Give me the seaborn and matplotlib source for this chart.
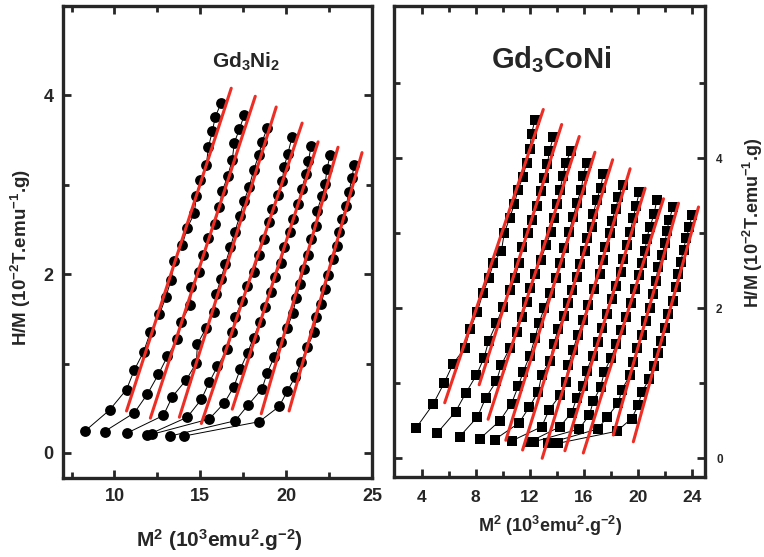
import numpy as np
import pandas as pd
import matplotlib
matplotlib.use("Agg")
import matplotlib.pyplot as plt
import seaborn as sns
from matplotlib.ticker import FixedLocator

# ---- Gd3Ni2 isotherms (M^2 in 10^3 emu^2/g^2, H/M in 10^-2 T.g/emu) ----
ni2_m2 = [
    [8.31, 9.71, 10.70, 11.16, 11.69, 12.09, 12.62, 13.00, 13.30, 13.49, 13.95, 14.24, 14.65, 14.77, 15.00, 15.35, 15.47, 15.70, 15.87, 16.22],
    [9.42, 11.16, 11.92, 12.56, 13.08, 13.66, 13.90, 14.42, 14.48, 14.94, 15.17, 15.47, 15.85, 16.10, 16.28, 16.60, 16.86, 16.98, 17.27, 17.56],
    [10.70, 12.85, 13.37, 14.19, 14.77, 14.83, 15.35, 15.81, 15.93, 16.20, 16.45, 16.75, 17.00, 17.30, 17.55, 17.85, 18.10, 18.40, 18.60, 18.90],
    [11.92, 14.24, 15.06, 15.52, 16.00, 16.57, 16.86, 17.03, 17.44, 17.73, 18.14, 18.40, 18.72, 19.00, 19.19, 19.53, 19.77, 19.88, 20.10, 20.35],
    [12.21, 15.52, 16.40, 16.95, 17.33, 17.75, 18.10, 18.45, 18.75, 19.10, 19.35, 19.70, 19.90, 20.20, 20.40, 20.70, 20.90, 21.15, 21.30, 21.45],
    [13.26, 17.03, 17.80, 18.60, 18.90, 19.30, 19.70, 20.06, 20.40, 20.58, 20.81, 21.05, 21.28, 21.45, 21.74, 21.80, 22.10, 22.27, 22.38, 22.56],
    [14.07, 18.43, 19.59, 20.06, 20.52, 20.87, 21.22, 21.63, 21.74, 22.03, 22.27, 22.44, 22.73, 22.97, 23.08, 23.26, 23.49, 23.66, 23.84, 23.95],
]
ni2_hm = [
    [0.25, 0.48, 0.71, 0.93, 1.13, 1.35, 1.55, 1.75, 1.94, 2.15, 2.33, 2.52, 2.68, 2.88, 3.05, 3.22, 3.42, 3.60, 3.76, 3.92],
    [0.24, 0.45, 0.66, 0.88, 1.08, 1.27, 1.47, 1.66, 1.86, 2.03, 2.22, 2.40, 2.56, 2.75, 2.93, 3.10, 3.28, 3.47, 3.62, 3.78],
    [0.22, 0.42, 0.63, 0.82, 1.01, 1.22, 1.40, 1.58, 1.78, 1.95, 2.11, 2.30, 2.47, 2.65, 2.82, 2.98, 3.16, 3.33, 3.48, 3.64],
    [0.20, 0.40, 0.60, 0.79, 0.97, 1.16, 1.35, 1.52, 1.70, 1.87, 2.03, 2.22, 2.39, 2.58, 2.73, 2.89, 3.04, 3.20, 3.35, 3.54],
    [0.21, 0.38, 0.56, 0.74, 0.94, 1.12, 1.29, 1.46, 1.63, 1.80, 1.97, 2.13, 2.30, 2.47, 2.62, 2.79, 2.95, 3.12, 3.27, 3.43],
    [0.19, 0.36, 0.54, 0.72, 0.90, 1.07, 1.24, 1.40, 1.57, 1.73, 1.89, 2.06, 2.22, 2.39, 2.54, 2.71, 2.88, 3.01, 3.18, 3.33],
    [0.19, 0.35, 0.52, 0.69, 0.85, 1.02, 1.18, 1.35, 1.52, 1.67, 1.83, 1.99, 2.17, 2.31, 2.47, 2.62, 2.76, 2.92, 3.08, 3.22],
]
# linear (Arrott) fits: end points
ni2_fit_x = [(10.70, 16.80), (12.09, 18.20), (13.78, 19.42), (15.06, 20.93), (16.86, 21.86), (18.55, 23.02), (20.17, 24.42)]
ni2_fit_y = [(0.47, 4.08), (0.39, 3.99), (0.40, 3.87), (0.33, 3.69), (0.49, 3.48), (0.44, 3.42), (0.47, 3.36)]

# ---- Gd3CoNi isotherms ----
coni_m2 = [
    [3.61, 4.84, 5.65, 6.32, 7.19, 7.60, 8.10, 8.54, 8.96, 9.30, 9.90, 10.10, 10.52, 10.85, 11.12, 11.48, 11.76, 12.00, 12.12, 12.38],
    [5.16, 6.50, 7.26, 8.05, 8.61, 8.96, 9.53, 10.02, 10.52, 10.89, 11.20, 11.45, 11.83, 12.12, 12.55, 12.79, 13.05, 13.30, 13.45, 13.73],
    [6.81, 8.12, 8.72, 9.53, 9.90, 10.52, 11.01, 11.43, 11.76, 12.00, 12.40, 12.80, 13.20, 13.55, 13.78, 14.02, 14.22, 14.45, 14.65, 15.05],
    [8.30, 9.78, 10.64, 11.14, 11.50, 12.00, 12.37, 12.67, 13.06, 13.50, 13.90, 14.20, 14.55, 14.90, 15.21, 15.46, 15.80, 15.95, 16.20],
    [9.41, 11.19, 11.95, 12.62, 12.87, 13.50, 13.75, 14.10, 14.50, 14.80, 15.15, 15.46, 15.70, 16.07, 16.20, 16.57, 16.69, 16.94, 17.23, 17.43],
    [10.64, 12.87, 13.41, 14.22, 14.67, 14.84, 15.20, 15.55, 15.95, 16.30, 16.75, 17.19, 17.38, 17.56, 17.93, 18.05, 18.37, 18.54, 18.87],
    [12.00, 14.22, 15.09, 15.46, 15.95, 16.20, 16.65, 17.00, 17.35, 17.70, 18.05, 18.40, 18.72, 18.91, 19.21, 19.41, 19.65, 19.85, 20.10],
    [12.30, 15.65, 16.40, 16.69, 17.23, 17.50, 18.00, 18.40, 18.75, 19.10, 19.45, 19.80, 20.10, 20.27, 20.52, 20.64, 20.89, 21.19, 21.38],
    [13.36, 17.01, 17.73, 18.54, 18.79, 19.41, 19.65, 19.95, 20.30, 20.55, 20.85, 21.10, 21.30, 21.50, 21.76, 21.99, 22.12, 22.32, 22.57],
    [14.10, 18.42, 19.53, 20.02, 20.27, 20.84, 21.15, 21.45, 21.70, 22.00, 22.25, 22.55, 22.80, 22.99, 23.16, 23.36, 23.56, 23.80, 23.98],
]
coni_hm = [
    [0.41, 0.72, 1.00, 1.26, 1.47, 1.73, 1.95, 2.21, 2.40, 2.60, 2.77, 3.00, 3.21, 3.39, 3.58, 3.75, 3.94, 4.12, 4.33, 4.51],
    [0.34, 0.62, 0.87, 1.11, 1.34, 1.57, 1.80, 2.02, 2.24, 2.40, 2.60, 2.82, 3.00, 3.18, 3.37, 3.56, 3.74, 3.93, 4.10, 4.28],
    [0.29, 0.55, 0.80, 1.03, 1.25, 1.47, 1.68, 1.88, 2.08, 2.27, 2.46, 2.65, 2.84, 3.02, 3.21, 3.39, 3.58, 3.76, 3.94, 4.10],
    [0.26, 0.50, 0.73, 0.96, 1.15, 1.37, 1.60, 1.80, 2.00, 2.20, 2.40, 2.60, 2.81, 3.02, 3.22, 3.40, 3.58, 3.76, 3.94],
    [0.25, 0.47, 0.68, 0.89, 1.11, 1.30, 1.52, 1.72, 1.90, 2.07, 2.25, 2.42, 2.59, 2.77, 2.94, 3.09, 3.26, 3.44, 3.61, 3.79],
    [0.23, 0.42, 0.64, 0.84, 1.02, 1.24, 1.45, 1.65, 1.85, 2.05, 2.26, 2.46, 2.64, 2.82, 3.00, 3.17, 3.33, 3.48, 3.65],
    [0.22, 0.42, 0.61, 0.80, 0.97, 1.17, 1.36, 1.55, 1.74, 1.93, 2.12, 2.30, 2.48, 2.66, 2.84, 3.02, 3.20, 3.37, 3.55],
    [0.22, 0.39, 0.58, 0.76, 0.95, 1.15, 1.34, 1.52, 1.71, 1.89, 2.07, 2.26, 2.44, 2.60, 2.77, 2.93, 3.09, 3.26, 3.44],
    [0.20, 0.39, 0.55, 0.74, 0.91, 1.11, 1.29, 1.47, 1.65, 1.83, 2.01, 2.19, 2.37, 2.55, 2.71, 2.87, 3.03, 3.18, 3.35],
    [0.20, 0.36, 0.53, 0.71, 0.88, 1.06, 1.23, 1.40, 1.57, 1.74, 1.92, 2.10, 2.28, 2.46, 2.62, 2.78, 2.94, 3.08, 3.24],
]
coni_fit_x = [(5.70, 12.99), (8.25, 14.35), (8.91, 15.65), (10.22, 16.81), (11.46, 18.12),
              (12.91, 19.41), (14.59, 20.52), (15.95, 21.88), (18.17, 22.99), (19.65, 24.47)]
coni_fit_y = [(0.74, 4.65), (0.98, 4.45), (0.52, 4.29), (0.24, 4.08), (0.11, 3.98),
              (0.00, 3.86), (0.10, 3.60), (0.07, 3.46), (0.31, 3.40), (0.22, 3.35)]

XLABEL = r"M$^2$ (10$^3$emu$^2$.g$^{-2}$)"
YLABEL = r"H/M (10$^{-2}$T.emu$^{-1}$.g)"
RED = "#ee2d24"


def to_long(xs, ys):
    rows = []
    for i, (cx, cy) in enumerate(zip(xs, ys)):
        for a, b in zip(cx, cy):
            rows.append({"curve": i, "m2": a, "hm": b})
    return pd.DataFrame(rows)


sns.set_style("ticks")
plt.rcParams["font.family"] = ["Liberation Sans", "DejaVu Sans"]
plt.rcParams["font.weight"] = "bold"
plt.rcParams["mathtext.fontset"] = "custom"
plt.rcParams["mathtext.rm"] = "Liberation Sans:bold"
plt.rcParams["mathtext.bf"] = "Liberation Sans:bold"
plt.rcParams["mathtext.it"] = "Liberation Sans:bold"
plt.rcParams["mathtext.default"] = "rm"

fig = plt.figure(figsize=(7.64, 5.57), dpi=100)
ax_l = fig.add_axes([63 / 764, 1 - 478 / 557, 309 / 764, 472 / 557])
ax_r = fig.add_axes([394 / 764, 1 - 477 / 557, 311 / 764, 471 / 557])

panels = [
    (ax_l, ni2_m2, ni2_hm, ni2_fit_x, ni2_fit_y, "o", 7.8),
    (ax_r, coni_m2, coni_hm, coni_fit_x, coni_fit_y, "s", 6.9),
]
for ax, xs, ys, fx, fy, mk, ms in panels:
    data = to_long(xs, ys)
    fits = to_long(fx, fy)
    # measured isotherms
    sns.lineplot(data=data, x="m2", y="hm", units="curve", estimator=None, sort=False,
                 color="black", linewidth=0.7, marker=mk, markersize=ms,
                 markeredgewidth=0, ax=ax, legend=False, zorder=2)
    # linear fits of the high-field part
    sns.lineplot(data=fits, x="m2", y="hm", units="curve", estimator=None, sort=False,
                 color=RED, linewidth=2.2, ax=ax, legend=False, zorder=3)
    ax.set_xlabel("")
    ax.set_ylabel("")
    for sp in ax.spines.values():
        sp.set_visible(True)
        sp.set_linewidth(2.4)
    ax.tick_params(which="both", direction="in", top=True, right=True, width=2)
    ax.tick_params(which="major", length=6)
    ax.tick_params(which="minor", length=4)

# left panel
ax_l.set_xlim(7, 25)
ax_l.set_ylim(-0.28, 5.0)
ax_l.xaxis.set_major_locator(FixedLocator([10, 15, 20, 25]))
ax_l.xaxis.set_minor_locator(FixedLocator([7.5, 12.5, 17.5, 22.5]))
ax_l.yaxis.set_major_locator(FixedLocator([0, 2, 4]))
ax_l.yaxis.set_minor_locator(FixedLocator([1, 3]))
ax_l.tick_params(which="major", labelsize=13, pad=7)
ax_l.text(0.592, 0.869, r"Gd$_3$Ni$_2$", transform=ax_l.transAxes,
          ha="center", va="baseline", fontsize=15, fontweight="bold")

# right panel
ax_r.set_xlim(1.95, 24.95)
ax_r.set_ylim(-0.25, 6.03)
ax_r.xaxis.set_major_locator(FixedLocator([4, 8, 12, 16, 20, 24]))
ax_r.xaxis.set_minor_locator(FixedLocator([6, 10, 14, 18, 22]))
ax_r.yaxis.set_major_locator(FixedLocator([0, 2, 4]))
ax_r.yaxis.set_minor_locator(FixedLocator([1, 3, 5]))
ax_r.tick_params(axis="x", which="major", labelsize=12.5, pad=9)
ax_r.tick_params(axis="y", which="major", labelsize=8.5, pad=8,
                 labelleft=False, labelright=True)
ax_r.text(0.505, 0.869, r"Gd$_3$CoNi", transform=ax_r.transAxes,
          ha="center", va="baseline", fontsize=21, fontweight="bold")

# axis labels
fig.text(219 / 764, 1 - 540 / 557, XLABEL, ha="center", va="center", fontsize=15, fontweight="bold")
fig.text(550 / 764, 1 - 526 / 557, XLABEL, ha="center", va="center", fontsize=13, fontweight="bold")
fig.text(21 / 764, 1 - 257 / 557, YLABEL, ha="center", va="center", rotation=90,
         fontsize=13.5, fontweight="bold")
fig.text(753 / 764, 1 - 223 / 557, YLABEL, ha="center", va="center", rotation=90,
         fontsize=13, fontweight="bold")

fig.savefig("out.png", dpi=100)
